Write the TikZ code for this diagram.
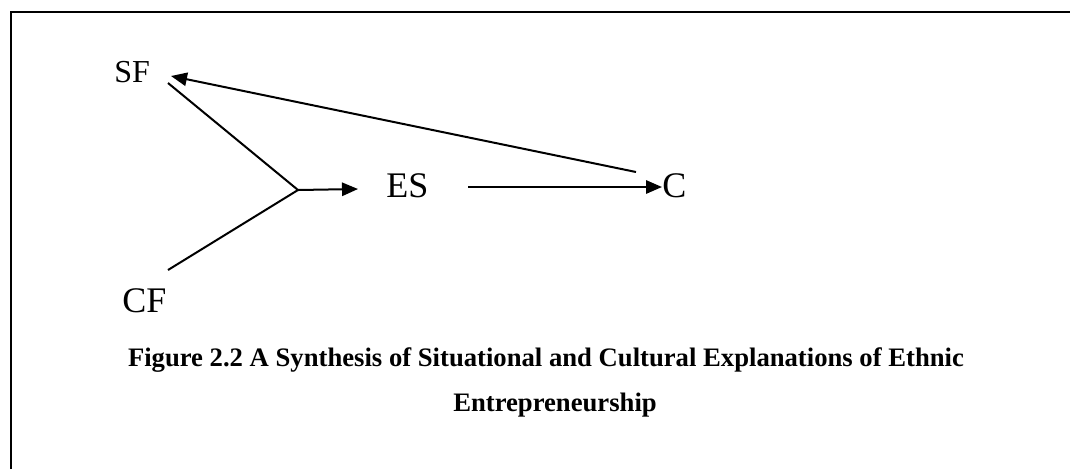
\documentclass[tikz,border=0pt]{standalone}
\usepackage{fontspec}
\setmainfont{Liberation Serif}
\usetikzlibrary{arrows.meta}
\begin{document}
\begin{tikzpicture}[x=0.75pt,y=-0.75pt,
  lbl/.style={inner sep=0pt,anchor=base west,font=\fontsize{27}{30}\selectfont},
  captext/.style={inner sep=0pt,anchor=base,font=\fontsize{20}{24}\selectfont\bfseries},
  conn/.style={line width=1.5pt},
  arr/.style={conn,-{Triangle[length=12pt,width=10pt]}}]
\useasboundingbox (0,0) rectangle (1070,469);
\draw[line width=2.2pt] (11,469) -- (11,12) -- (1070,12);
% labels
\node[lbl,font=\fontsize{24}{28}\selectfont] (SF) at (114,82) {SF};
\node[lbl] (CF) at (122,312) {CF};
\node[lbl] (ES) at (386,197) {ES};
\node[lbl] (C) at (662,197) {C};
% connector ends
\coordinate (sfA) at (171,76);
\coordinate (sfB) at (168,83);
\coordinate (cfA) at (168,270);
\coordinate (jn) at (298,190);
\coordinate (esIn) at (358,189);
\coordinate (esOut) at (468,187);
\coordinate (cIn) at (662,187);
\coordinate (cOut) at (636,172);
\draw[conn] (sfB) -- (jn);
\draw[conn] (cfA) -- (jn);
\draw[arr] (jn) -- (esIn);
\draw[arr] (esOut) -- (cIn);
\draw[arr] (cOut) -- (sfA);
% caption
\node[captext] (cap1) at (546,366) {Figure 2.2 A Synthesis of Situational and Cultural Explanations of Ethnic};
\node[captext] (cap2) at (555,411) {Entrepreneurship};
\end{tikzpicture}
\end{document}
